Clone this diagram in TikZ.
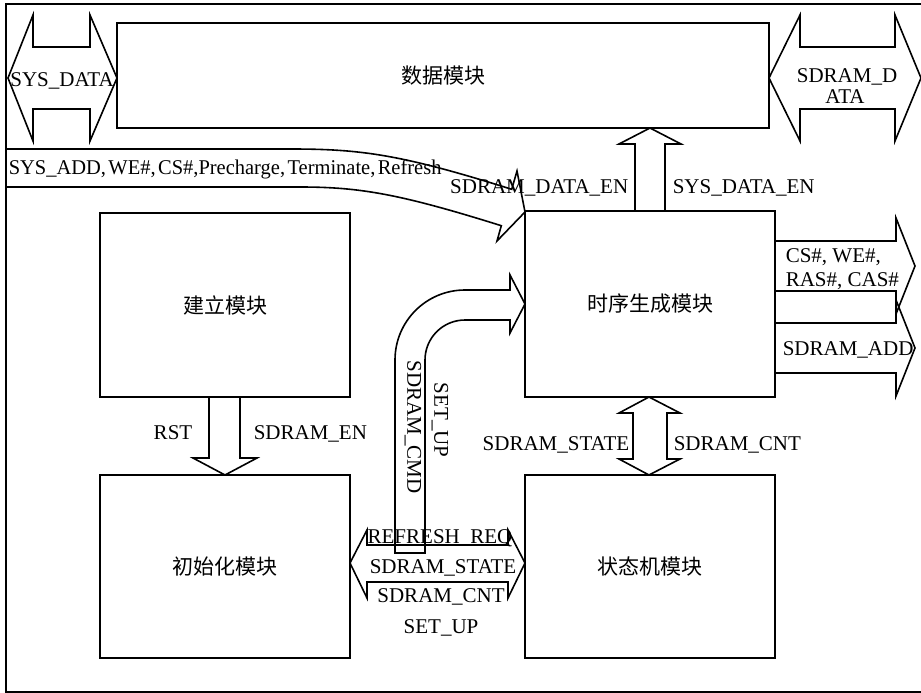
\documentclass[tikz,border=0pt]{standalone}
\usepackage{fontspec}
\setmainfont{Liberation Serif}
\newfontfamily\cjk{Noto Sans CJK SC}
\begin{document}
\begin{tikzpicture}[x=1pt,y=-1pt, line width=1.6pt, line join=miter,
  box/.style={draw, minimum width=250pt, minimum height=184pt, inner sep=0pt,
    font=\cjk\fontsize{21}{25}\selectfont},
  lbl/.style={inner sep=0pt, font=\fontsize{21}{25}\selectfont},
  blk/.style={draw, line width=1.6pt}]
\useasboundingbox (0,0) rectangle (921,693);
% outer frame
\draw (6,4) rectangle (940,692);
% modules
\node[box, minimum width=652pt, minimum height=105pt] (data) at (443,75.5) {数据模块};
\node[box] (build) at (225,305) {建立模块};
\node[box, minimum height=186pt] (timing) at (650,304) {时序生成模块};
\node[box, minimum height=183pt] (init) at (225,566.5) {初始化模块};
\node[box, minimum height=183pt] (fsm) at (650,566.5) {状态机模块};
% SYS_DATA double arrow
\draw[blk] (8,78) -- (33,15) -- (33,47) -- (90,47) -- (90,15) -- (117,78)
  -- (90,141) -- (90,109) -- (33,109) -- (33,141) -- cycle;
\node[lbl, anchor=base] (sysdata) at (62,86) {SYS\_DATA};
% SDRAM_DATA double arrow
\draw[blk] (769,78) -- (800,15) -- (800,47) -- (895,47) -- (895,15) -- (921,78)
  -- (895,141) -- (895,109) -- (800,109) -- (800,141) -- cycle;
\node[lbl, anchor=base] (sdd1) at (847,82) {SDRAM\_D};
\node[lbl, anchor=base] (sdd2) at (845,103) {ATA};
% SYS_ADD curved arrow
\draw[blk] (6,149) -- (290,149) .. controls (360,149) and (400,154) .. (511.7,189.3)
  -- (517,171) -- (525,212) -- (497,241) -- (501.3,225.7)
  .. controls (400,194) and (360,187) .. (300,187) -- (6,187);
\node[lbl, anchor=base west] (sysadd) at (8,174)
  {\scalebox{0.975}[1]{\spaceskip=2.5pt SYS\_ADD, WE\#, CS\#,Precharge, Terminate, Refresh}};
\node[lbl, anchor=base east] (sden) at (629,193) {SDRAM\_DATA\_EN};
\node[lbl, anchor=base west] (sysen) at (672,193) {SYS\_DATA\_EN};
% SYS_DATA_EN up arrow
\draw[blk] (635,211) -- (635,144) -- (619,144) -- (650,128) -- (681,144) -- (665,144) -- (665,211);
% CS#... output arrow
\draw[blk] (775,241) -- (896,241) -- (896,218) -- (915,266) -- (896,314) -- (896,291) -- (775,291);
\node[lbl, anchor=base west] (cs1) at (785,262) {CS\#, WE\#,};
\node[lbl, anchor=base west] (cs2) at (785,286) {RAS\#, CAS\#};
% SDRAM_ADD output arrow
\draw[blk] (775,323) -- (896,323) -- (896,300) -- (915,348) -- (896,396) -- (896,373) -- (775,373);
\node[lbl, anchor=base west] (sdadd) at (782,355) {SDRAM\_ADD};
% RST / SDRAM_EN down arrow
\draw[blk] (209,397) -- (209,458) -- (193,458) -- (225,475) -- (257,458) -- (240,458) -- (240,397);
\node[lbl, anchor=base] (rst) at (173,439) {RST};
\node[lbl, anchor=base west] (sdramen) at (253,439) {SDRAM\_EN};
% SDRAM_STATE / SDRAM_CNT vertical double arrow
\draw[blk] (649,397) -- (680,413) -- (667,413) -- (667,459) -- (680,459) -- (649,475)
  -- (619,459) -- (633,459) -- (633,413) -- (619,413) -- cycle;
\node[lbl, anchor=base east] (st1) at (630,450) {SDRAM\_STATE};
\node[lbl, anchor=base west] (cnt1) at (673,450) {SDRAM\_CNT};
% SDRAM_CMD / SET_UP bent arrow
\draw[blk] (395,553) -- (395,360) .. controls (395,321.3) and (426.3,290) .. (465,290)
  -- (510,290) -- (510,275) -- (525,304) -- (510,333) -- (510,320) -- (465,320)
  .. controls (442.9,320) and (425,337.9) .. (425,360) -- (425,553) -- cycle;
\node[lbl, rotate=-90] (cmd) at (413,427) {SDRAM\_CMD};
\node[lbl, rotate=-90] (setup1) at (440,420) {SET\_UP};
% horizontal double arrow between init and fsm
\draw[blk] (350,563) -- (367,530) -- (367,545) -- (508,545) -- (508,530) -- (525,563)
  -- (508,598) -- (508,582) -- (367,582) -- (367,598) -- cycle;
\node[lbl, anchor=base] (rreq) at (440,543) {REFRESH\_REQ};
\node[lbl, anchor=base] (st2) at (443,573) {SDRAM\_STATE};
\node[lbl, anchor=base] (cnt2) at (441,602) {SDRAM\_CNT};
\node[lbl, anchor=base] (setup2) at (441,633) {SET\_UP};
\end{tikzpicture}
\end{document}
